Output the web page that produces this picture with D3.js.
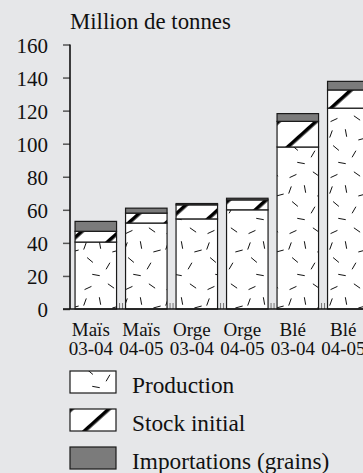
<!DOCTYPE html>
<html><head><meta charset="utf-8">
<script src="https://cdn.jsdelivr.net/npm/d3@7/dist/d3.min.js"></script>
<style>
html,body{margin:0;padding:0;background:#e6e7e9;}
svg{display:block;}
svg text{font-family:"Liberation Serif","Times New Roman",Times,"DejaVu Serif","Noto Serif",serif;}
</style></head>
<body>
<svg id="c" width="363" height="473"></svg>
<script>
const categoriesCrop = ["Maïs","Maïs","Orge","Orge","Blé","Blé"];
const categoriesYear = ["03-04","04-05","03-04","04-05","03-04","04-05"];
const production = [40.5, 52, 54.5, 60, 98, 121.5];
const stockInitial = [6.5, 6, 8.5, 6, 15.5, 11];
const importations = [6, 3, 0.8, 1, 4.7, 5.2];
const yTicks = [0, 20, 40, 60, 80, 100, 120, 140, 160];
const seriesNames = ["Production", "Stock initial", "Importations (grains)"];
const title = "Million de tonnes";

const svg = d3.select("#c");
const keys = categoriesCrop.map((c,i)=>i);

const y = d3.scaleLinear().domain([0,160]).range([309, 44.5]);
const x = d3.scaleBand().domain(keys).range([70, 374.1]).paddingInner(0.178).paddingOuter(0.1);

// patterns
const defs = svg.append("defs");
const pp = defs.append("pattern").attr("id","prod").attr("patternUnits","userSpaceOnUse")
  .attr("width",41).attr("height",56);
pp.append("rect").attr("width",41).attr("height",56).attr("fill","#fff");
const dashes = [[6,8,-25],[29,6,35],[18,21,80],[34,27,-15],[8,36,40],[26,42,-60],[14,51,10],[3,22,-70]];
dashes.forEach(([cx,cy,a])=>{
  const r = a*Math.PI/180, L=3.8;
  pp.append("line").attr("x1",cx-L*Math.cos(r)).attr("y1",cy-L*Math.sin(r))
    .attr("x2",cx+L*Math.cos(r)).attr("y2",cy+L*Math.sin(r))
    .attr("stroke","#111").attr("stroke-width",1);
});
const sp = defs.append("pattern").attr("id","stock").attr("patternUnits","userSpaceOnUse")
  .attr("width",25).attr("height",25).attr("patternTransform","rotate(48)");
sp.append("rect").attr("width",25).attr("height",25).attr("fill","#fff");
sp.append("rect").attr("x",0).attr("width",3.6).attr("height",25).attr("fill","#000");

const fills = ["url(#prod)","url(#stock)","#7b7b7b"];

// bars
const g = svg.append("g");
keys.forEach(i=>{
  const segs = [
    [0, production[i]],
    [production[i], production[i]+stockInitial[i]],
    [production[i]+stockInitial[i], production[i]+stockInitial[i]+importations[i]]
  ];
  segs.forEach((s,k)=>{
    g.append("rect").attr("x",x(i)).attr("width",x.bandwidth())
      .attr("y",y(s[1])).attr("height",y(s[0])-y(s[1]))
      .attr("fill",fills[k]).attr("stroke","#1a1a1a").attr("stroke-width",1.2);
  });
});

// little stubs between bars
keys.slice(0,-1).forEach(i=>{
  const gx = x(i)+x.bandwidth() + (x.step()-x.bandwidth())/2;
  [-1.5,1.5].forEach(o=>{
    svg.append("line").attr("x1",gx+o).attr("x2",gx+o).attr("y1",303).attr("y2",309)
      .attr("stroke","#777").attr("stroke-width",1);
  });
});

// axes
const yAxis = svg.append("g").attr("transform","translate(70,0)")
  .call(d3.axisLeft(y).tickValues(yTicks).tickSize(7).tickPadding(15).tickFormat(d3.format("d")));
yAxis.attr("font-family",null);
yAxis.select(".domain").remove();
yAxis.selectAll(".tick line").attr("stroke","#555").attr("stroke-width",1.5);
yAxis.selectAll(".tick text").attr("font-size",21).attr("fill","#111").attr("dy","0.36em");
svg.append("line").attr("x1",70).attr("x2",70).attr("y1",y(160)).attr("y2",y(0))
  .attr("stroke","#111").attr("stroke-width",1.6);
svg.append("line").attr("x1",63).attr("x2",363).attr("y1",y(0)).attr("y2",y(0))
  .attr("stroke","#111").attr("stroke-width",1.6);

// category labels
keys.forEach(i=>{
  const cx = x(i)+x.bandwidth()/2 - 5;
  svg.append("text").attr("x",cx).attr("y",336).attr("text-anchor","middle")
    .attr("font-size",19).attr("fill","#111").text(categoriesCrop[i]);
  svg.append("text").attr("x",cx).attr("y",355).attr("text-anchor","middle")
    .attr("font-size",19).attr("fill","#111").text(categoriesYear[i]);
});

// title
svg.append("text").attr("x",70).attr("y",29).attr("font-size",22.8).attr("fill","#111").text(title);

// legend
seriesNames.forEach((n,k)=>{
  const top = 371 + k*38;
  svg.append("rect").attr("x",70).attr("y",top).attr("width",46).attr("height",22)
    .attr("fill",fills[k]).attr("stroke","#1a1a1a").attr("stroke-width",1.2);
  svg.append("text").attr("x",132).attr("y",top+22).attr("font-size",23.3).attr("fill","#111").text(n);
});
</script>
</body></html>
